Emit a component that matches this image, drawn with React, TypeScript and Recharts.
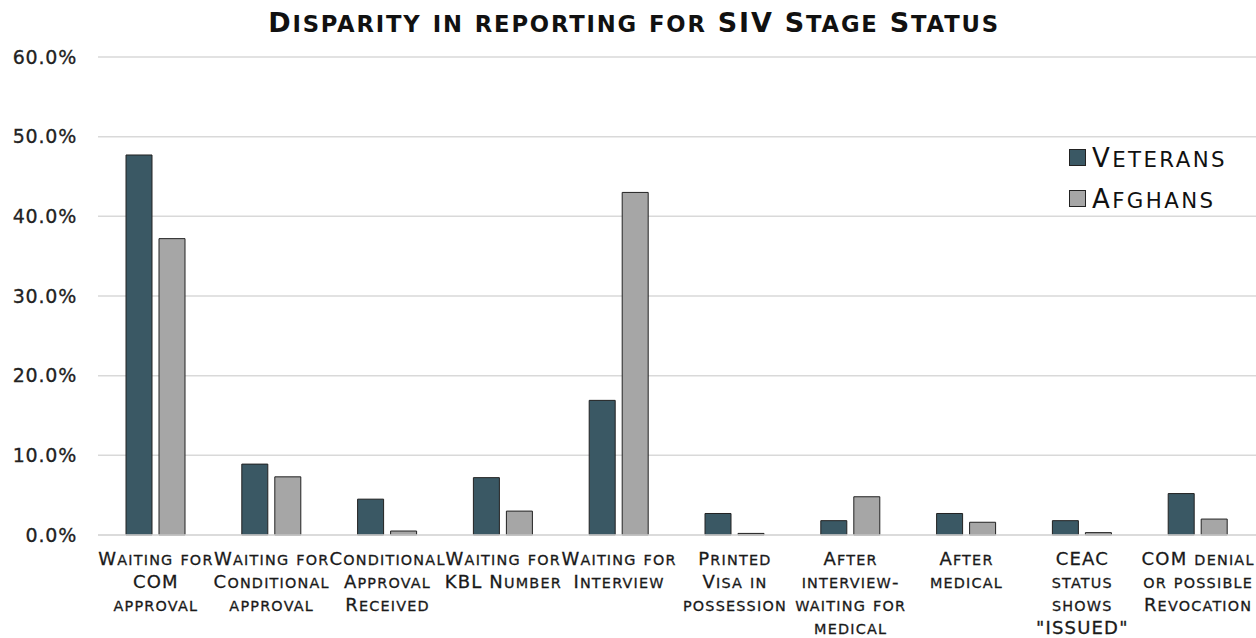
import React from 'react';
import { BarChart, Bar, XAxis, YAxis, CartesianGrid, Legend } from 'recharts';

const categories = [
  'Waiting for COM approval',
  'Waiting for Conditional approval',
  'Conditional Approval Received',
  'Waiting for KBL Number',
  'Waiting for Interview',
  'Printed Visa in possession',
  'After interview-waiting for medical',
  'After medical',
  'CEAC status shows "ISSUED"',
  'COM denial or possible Revocation',
];
const categoryLines = [
  ['Waiting for', 'COM', 'approval'],
  ['Waiting for', 'Conditional', 'approval'],
  ['Conditional', 'Approval', 'Received'],
  ['Waiting for', 'KBL Number'],
  ['Waiting for', 'Interview'],
  ['Printed', 'Visa in', 'possession'],
  ['After', 'interview-', 'waiting for', 'medical'],
  ['After', 'medical'],
  ['CEAC', 'status', 'shows', '"ISSUED"'],
  ['COM denial', 'or possible', 'Revocation'],
];
const veterans = [47.7, 8.9, 4.5, 7.2, 16.9, 2.7, 1.8, 2.7, 1.8, 5.2];
const afghans = [37.2, 7.3, 0.5, 3.0, 43.0, 0.2, 4.8, 1.6, 0.3, 2.0];
const yTicks = [0, 10, 20, 30, 40, 50, 60];
const seriesNames = ['Veterans', 'Afghans'];
const seriesColors = ['#3a5864', '#a6a6a6'];
const title = 'Disparity in reporting for SIV Stage Status';

const data = categories.map((c, i) => ({
  name: c,
  veterans: veterans[i],
  afghans: afghans[i],
}));

const FONT = '"DejaVu Sans", Lato, sans-serif';

type Run = { text: string; small: boolean };
function runs(s: string): Run[] {
  const out: Run[] = [];
  for (const ch of s) {
    const small = ch !== ch.toUpperCase();
    const last = out[out.length - 1];
    if (last && last.small === small) last.text += ch;
    else out.push({ text: ch, small });
  }
  return out;
}

const SvgSC = ({ s, fs, sc }: { s: string; fs: number; sc: number }) => (
  <>
    {runs(s).map((r, i) => (
      <tspan key={i} fontSize={r.small ? fs * sc : fs}>
        {r.small ? r.text.toUpperCase() : r.text}
      </tspan>
    ))}
  </>
);

const XTick = (props: any) => {
  const { x, y, index } = props;
  const lines = categoryLines[index] || [];
  return (
    <text
      textAnchor="middle"
      fill="#1a1a1a"
      stroke="#1a1a1a"
      strokeWidth={0.3}
      fontFamily={FONT}
      fontSize={18}
      letterSpacing={1.2}
    >
      {lines.map((l: string, i: number) => (
        <tspan key={i} x={x} y={y + 30 + i * 23}>
          <SvgSC s={l} fs={18} sc={0.8} />
        </tspan>
      ))}
    </text>
  );
};

const LegendContent = () => (
  <div style={{ fontFamily: FONT, fontSize: 26, color: '#111', letterSpacing: 2.4 }}>
    {seriesNames.map((n, i) => (
      <div key={n} style={{ display: 'flex', alignItems: 'center', height: 41 }}>
        <span
          style={{
            display: 'inline-block',
            width: 15,
            height: 15,
            background: seriesColors[i],
            border: '1px solid #222',
            marginRight: 6,
          }}
        />
        <span>
          {runs(n).map((r, k) => (
            <span key={k} style={{ fontSize: r.small ? 26 * 0.82 : 26 }}>
              {r.small ? r.text.toUpperCase() : r.text}
            </span>
          ))}
        </span>
      </div>
    ))}
  </div>
);

export default function App() {
  return (
    <div style={{ position: 'absolute', left: 0, top: 0, width: 1256, height: 638, background: '#fff' }}>
      <svg width={1256} height={50} style={{ position: 'absolute', left: 0, top: 0, zIndex: 2 }}>
        <text
          x={634}
          y={32}
          textAnchor="middle"
          fontFamily={FONT}
          fontSize={27}
          fontWeight={700}
          letterSpacing={1.8}
          fill="#111"
        >
          <SvgSC s={title} fs={27} sc={0.84} />
        </text>
      </svg>
      <BarChart
        width={1256}
        height={638}
        data={data}
        margin={{ top: 57, right: 0, left: 0, bottom: 3 }}
        barSize={26}
        barGap={7}
      >
        <CartesianGrid vertical={false} stroke="#d9d9d9" strokeWidth={1.5} />
        <XAxis
          dataKey="name"
          interval={0}
          height={100}
          tickLine={false}
          tickSize={0}
          tickMargin={0}
          axisLine={{ stroke: '#d9d9d9', strokeWidth: 1.5 }}
          tick={<XTick />}
        />
        <YAxis
          width={98}
          domain={[0, 60]}
          ticks={yTicks}
          tickFormatter={(v: number) => `${v.toFixed(1)}%`}
          axisLine={false}
          tickLine={false}
          tickSize={0}
          tickMargin={21}
          tick={{ fill: '#222', fontSize: 19, fontFamily: FONT, letterSpacing: 0.8, stroke: '#222', strokeWidth: 0.3 }}
        />
        <Legend
          layout="vertical"
          verticalAlign="middle"
          align="center"
          wrapperStyle={{ top: 137, left: 1069, width: 187 }}
          content={<LegendContent />}
        />
        <Bar dataKey="veterans" name={seriesNames[0]} fill={seriesColors[0]} stroke="#222" strokeWidth={1} isAnimationActive={false} />
        <Bar dataKey="afghans" name={seriesNames[1]} fill={seriesColors[1]} stroke="#222" strokeWidth={1} isAnimationActive={false} />
      </BarChart>
    </div>
  );
}
